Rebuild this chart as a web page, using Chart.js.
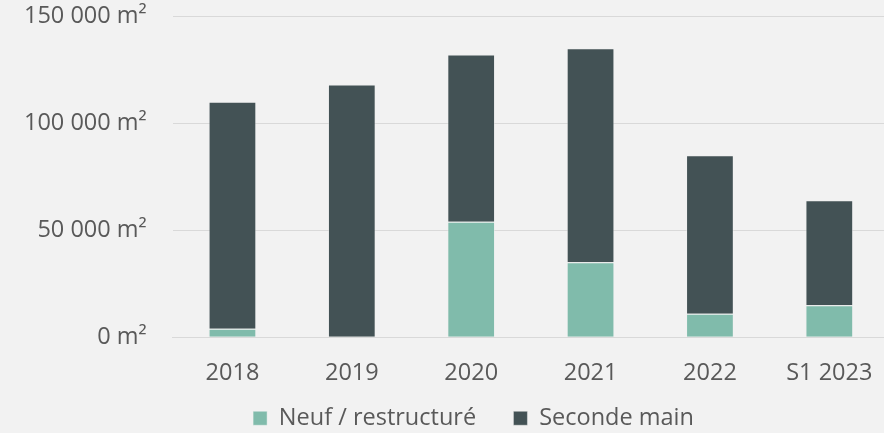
<!DOCTYPE html>
<html lang="fr">
<head>
<meta charset="utf-8">
<title>Surfaces</title>
<script src="https://cdn.jsdelivr.net/npm/chart.js@4/dist/chart.umd.min.js"></script>
<style>
  html, body { margin: 0; padding: 0; background: #f2f2f2; overflow: hidden; }
  #wrap { position: relative; width: 940px; height: 433px; }
</style>
</head>
<body>
<div id="wrap"><canvas id="surfChart"></canvas></div>
<script>
// Chart.js default configuration
Chart.defaults.font.family = "'Open Sans', 'Noto Sans', sans-serif";
Chart.defaults.font.size = 23.5;
Chart.defaults.color = '#595959';

const categories = ['2018', '2019', '2020', '2021', '2022', 'S1 2023'];
const neufValues = [4000, 0, 54000, 35000, 11000, 15000];
const secondeValues = [106000, 118000, 78000, 100000, 74000, 49000];
const yTicks = [0, 50000, 100000, 150000];

const colors = {
    neuf: '#80bbab',
    seconde: '#435255',
    grid: '#d9d9d9',
    edge: 'rgba(242, 242, 242, 0.45)'
};

function formatM2(value) {
    return String(value).replace(/\B(?=(\d{3})+(?!\d))/g, ' ') + ' m²';
}

// nudge the legend a little to the right, like the original
const legendShift = {
    id: 'legendShift',
    afterLayout(chart) {
        chart.legend.left += 17;
        chart.legend.right += 17;
    }
};

const ctx = document.getElementById('surfChart').getContext('2d');
new Chart(ctx, {
    type: 'bar',
    data: {
        labels: categories,
        datasets: [
            {
                label: 'Neuf / restructuré',
                data: neufValues,
                backgroundColor: colors.neuf,
                borderColor: colors.edge,
                borderWidth: 1,
                barPercentage: 0.4,
                categoryPercentage: 1
            },
            {
                label: 'Seconde main',
                data: secondeValues,
                backgroundColor: colors.seconde,
                borderColor: colors.edge,
                borderWidth: 1,
                barPercentage: 0.4,
                categoryPercentage: 1
            }
        ]
    },
    plugins: [legendShift],
    options: {
        responsive: true,
        maintainAspectRatio: false,
        animation: false,
        layout: {
            padding: { top: 16, right: 51, left: 24, bottom: -7 }
        },
        scales: {
            x: {
                stacked: true,
                grid: { drawOnChartArea: false, drawTicks: true, tickLength: 22, tickColor: 'transparent' },
                border: { color: colors.grid, width: 1 },
                ticks: { padding: 0 }
            },
            y: {
                stacked: true,
                min: 0,
                max: 150000,
                afterBuildTicks: function(axis) {
                    axis.ticks = yTicks.map(v => ({ value: v }));
                },
                grid: { color: colors.grid, drawTicks: true, tickLength: 26, tickColor: 'transparent' },
                border: { display: false },
                ticks: {
                    padding: 0,
                    callback: function(value) {
                        return formatM2(value);
                    }
                }
            }
        },
        plugins: {
            legend: {
                position: 'bottom',
                labels: {
                    boxWidth: 14,
                    boxHeight: 14,
                    padding: 19,
                    // widen the gap between the two entries
                    generateLabels: function(chart) {
                        const items = Chart.defaults.plugins.legend.labels.generateLabels(chart);
                        items.forEach((item, i) => {
                            if (i < items.length - 1) item.text += '   ';
                        });
                        return items;
                    }
                }
            },
            tooltip: { enabled: false }
        }
    }
});
</script>
</body>
</html>
